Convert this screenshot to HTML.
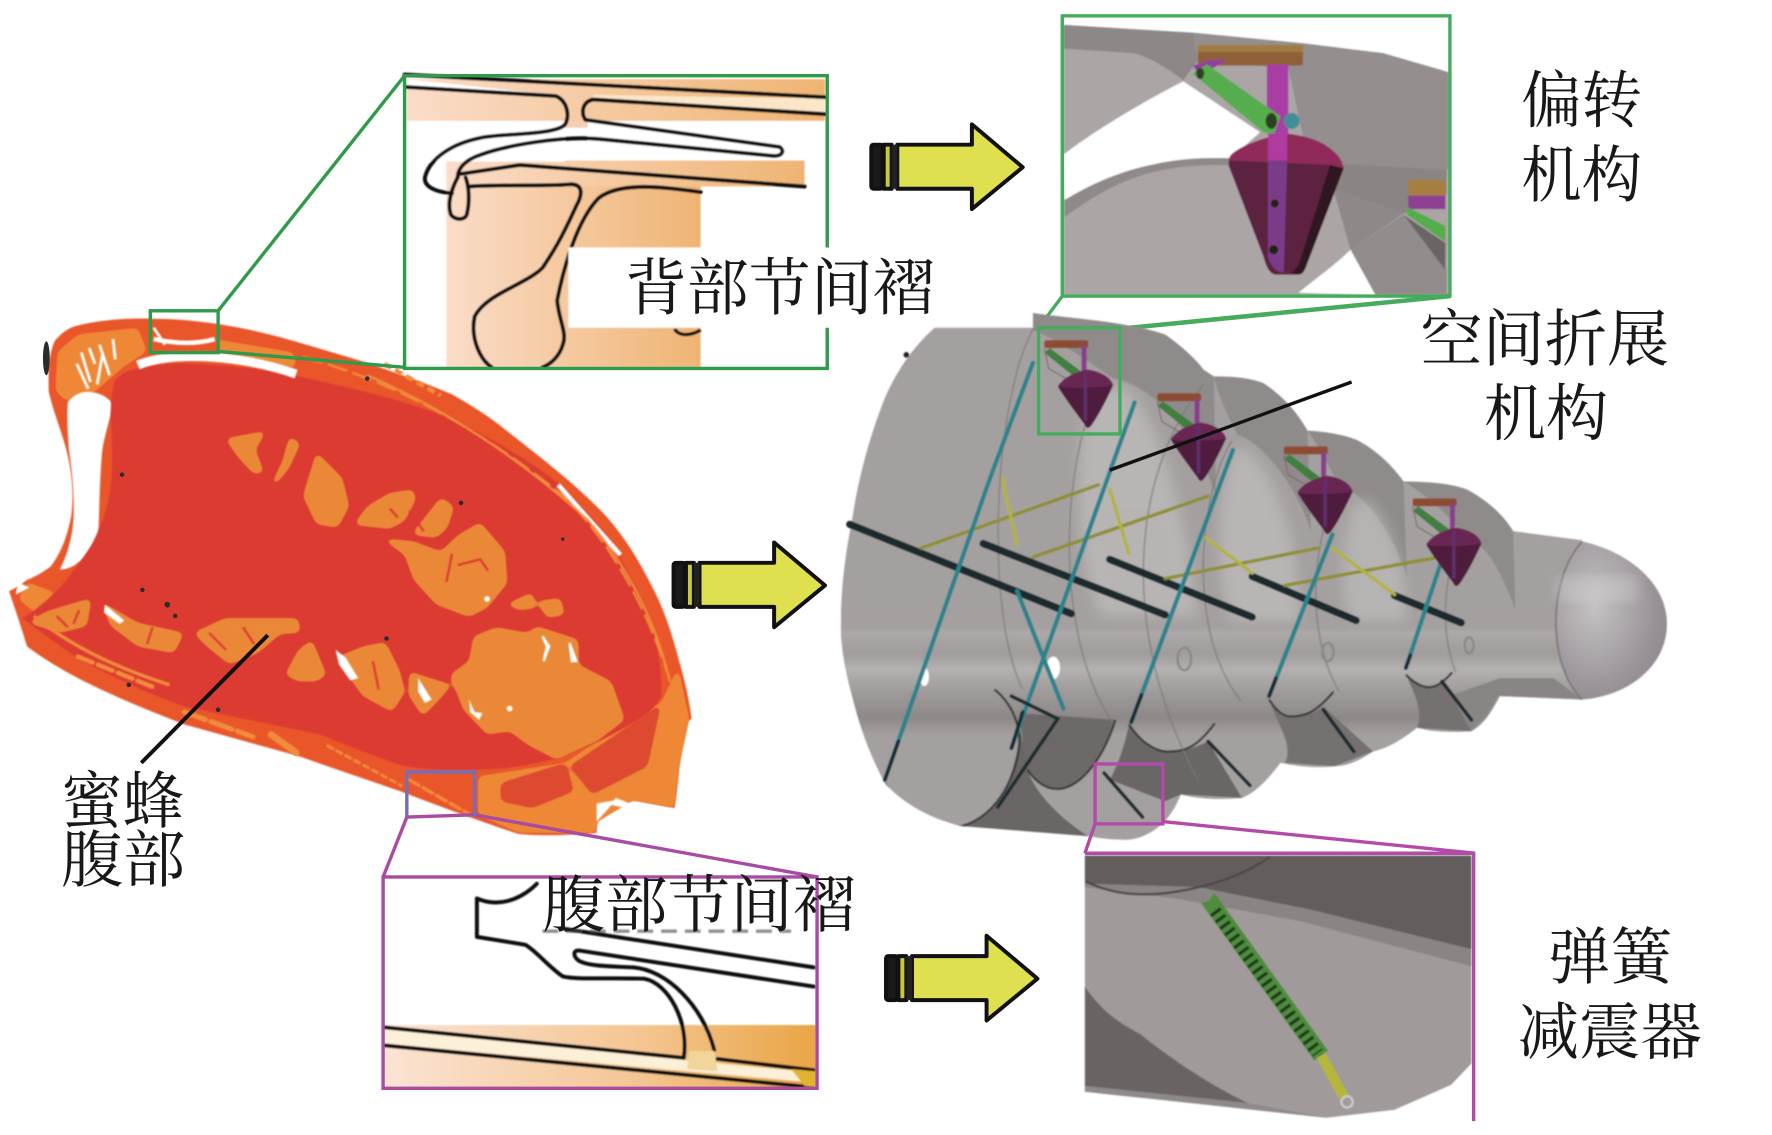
<!DOCTYPE html>
<html lang="zh">
<head>
<meta charset="utf-8">
<title>蜜蜂腹部仿生结构</title>
<style>
html,body{margin:0;padding:0;background:#fff;width:1772px;height:1135px;overflow:hidden}
svg{display:block}
text{font-family:"Liberation Serif","Noto Serif CJK SC",serif;font-size:55px;fill:#181818}
</style>
</head>
<body>
<svg width="1772" height="1135" viewBox="0 0 1568 1004.3" xmlns="http://www.w3.org/2000/svg">
<defs>
<filter id="goo" x="-5%" y="-5%" width="110%" height="110%" color-interpolation-filters="sRGB">
  <feGaussianBlur stdDeviation="3"/>
  <feColorMatrix values="1 0 0 0 0 0 1 0 0 0 0 0 1 0 0 0 0 0 7 -2.9"/>
  <feGaussianBlur stdDeviation=".5"/>
</filter>
<filter id="soft" x="-3%" y="-3%" width="106%" height="106%"><feGaussianBlur stdDeviation=".6"/></filter>
<filter id="soft2" x="-10%" y="-10%" width="120%" height="120%"><feGaussianBlur stdDeviation="6"/></filter>
<linearGradient id="peach" x1="0" y1="0" x2="1" y2="0"><stop offset="0" stop-color="#fadcc8"/><stop offset="1" stop-color="#efb473"/></linearGradient>
<linearGradient id="peach2" x1="0" y1="0" x2="1" y2="0"><stop offset="0" stop-color="#fbe3d4"/><stop offset=".6" stop-color="#f4c591"/><stop offset="1" stop-color="#e9a445"/></linearGradient>
<linearGradient id="shaft" gradientUnits="userSpaceOnUse" x1="0" y1="550" x2="0" y2="650">
<stop offset="0" stop-color="#9a9696" stop-opacity="0"/><stop offset=".1" stop-color="#b3b0b0" stop-opacity=".55"/><stop offset=".28" stop-color="#9c9898" stop-opacity=".45"/><stop offset=".42" stop-color="#bcbaba" stop-opacity=".65"/><stop offset=".65" stop-color="#979393" stop-opacity=".6"/><stop offset=".85" stop-color="#837e7e" stop-opacity=".7"/><stop offset="1" stop-color="#807b7b" stop-opacity="0"/>
</linearGradient>
<radialGradient id="sph" cx=".35" cy=".4" r=".75"><stop offset="0" stop-color="#c6c3c4"/><stop offset=".7" stop-color="#9a9498"/><stop offset="1" stop-color="#8b8490"/></radialGradient>
<clipPath id="sil"><path d="M827,290 L914,290 L914,277 C950,282 1000,285 1031,296 C1048,308 1058,318 1065,327 L1074,333 C1095,333 1108,335 1118,339 C1135,350 1148,365 1157,381 C1175,382 1190,385 1200,389 C1218,398 1232,412 1242,426 C1265,426 1285,428 1298,433 C1315,442 1330,455 1339,470 L1400,478 L1400,619 L1327,616 C1320,630 1312,642 1302,647 C1285,648 1268,648 1254,644 C1240,655 1228,662 1215,665 C1200,675 1190,678 1181,678 C1165,680 1148,678 1133,675 C1122,690 1110,702 1099,706 C1080,708 1060,707 1045,703 C1040,715 1033,726 1026,731 C1015,740 1003,744 992,743 C980,743 970,741 963,740 L851,731 C825,725 800,712 783,693 C768,665 760,640 754,616 C747,590 744,570 744,554 C744,520 748,490 754,460 C760,420 770,385 783,352 C795,325 810,305 827,290 Z"/></clipPath>
<g id="mech">
  <rect x="924" y="301" width="39" height="7" rx="2" fill="#8d4b32"/>
  <polygon points="924,312 929,308 960,331 955,337" fill="#3f7f3f"/>
  <path d="M924,308 L928,326 L945,336" fill="none" stroke="#7a6a6a" stroke-width="1"/>
  <rect x="957" y="306" width="4.5" height="24" fill="#8b3d8d"/>
  <path d="M963,327 C975,329 983,334 985,341 C980,352 972,368 966,376 C963,380 961,379 960,376 C951,364 942,352 936,342 C940,335 950,329 963,327 Z" fill="#4f1f3c"/>
  <path d="M963,327 C975,329 983,334 985,341 C970,343 950,344 936,342 C940,335 950,329 963,327 Z" fill="#6a2552"/>
  <rect x="959" y="330" width="3" height="42" fill="#5e2f6e"/>
</g>
<g id="arrow" stroke="#111" stroke-width="3.5" stroke-linejoin="round">
  <polygon points="794,128 860,128 860,110 905,148 860,185 860,167 794,167" fill="#dfe050"/>
  <rect x="771" y="128" width="10" height="39" fill="#1a1a1a" rx="2"/>
  <rect x="782" y="128" width="7" height="39" fill="#c9c93e"/>
  <rect x="789" y="128" width="5" height="39" fill="#222" stroke="none"/>
</g>
</defs>
<rect width="1568" height="1004.3" fill="#fff"/>

<!-- Bee abdomen -->
<path fill="#e9572a" filter="url(#soft)" d="M43,327 C44,312 48,300 51,299 C57,292 64,289 69,288 C85,284 110,281 134,282 C155,282 175,284 195,287 C220,291 245,297 268,304 L325,321 C350,330 375,338 400,349 C416,358 432,368 447,380 C475,402 505,425 530,450 C550,470 565,495 577,519 C588,540 595,562 601,585 C606,602 610,620 612,636 L601,644 C603,660 602,670 601,678 C600,692 598,705 597,715 L560,708 L528,727 L528,737 C505,739 480,740 459,738 C420,725 385,712 354,700 C325,690 295,680 264,669 L163,641 C135,630 105,618 81,606 C60,596 40,584 24,572 L16,547 L8,523 C15,520 20,516 24,513 C32,510 40,505 45,501 C55,488 60,472 63,457 C66,435 63,412 57,392 C52,375 46,360 43,346 Z"/>
<g filter="url(#goo)">
  <polygon fill="#ee8736" points="51,311 69,296 122,290 130,311 110,324 81,349 59,355 49,346"/>
  <polygon fill="#ee8736" points="500,675 561,634 585,622 600,590 610,636 601,678 597,715 560,708 528,727 528,737 459,737 423,721 423,687"/>
  <polygon fill="#ee8736" points="190,300 260,312 262,326 195,316"/>
  <polygon fill="#ee8736" points="24,515 50,525 35,545 16,530"/>
</g>
<g filter="url(#goo)">
  <polygon fill="#dd4a2f" points="443,693 500,675 508,700 471,715 443,709"/>
  <polygon fill="#dd4a2f" points="504,678 569,634 585,622 573,678 524,703"/>
</g>
<path fill="#fff" filter="url(#soft)" d="M60,356 C66,348 74,346 81,347 C90,348 96,352 100,358 C95,380 91,390 90,404 C88,430 88,450 87,473 C82,485 76,493 69,498 C64,502 58,504 53,504 C60,490 64,475 65,460 C66,440 64,418 61,398 C60,384 59,370 60,356 Z"/>
<path fill="#dc3a31" filter="url(#soft)" d="M102,336 C108,330 115,327 122,326 C140,322 155,321 171,322 C205,323 235,327 264,333 C305,342 350,352 390,367 C425,382 460,402 488,423 C506,438 522,455 536,473 C552,498 567,525 577,554 C583,575 586,596 585,616 C580,626 573,632 565,637 C540,652 515,664 488,672 C465,678 442,681 419,681 C398,682 378,681 358,678 C333,670 308,660 284,650 L163,625 C133,615 103,600 73,585 C55,573 37,560 20,547 C32,540 43,530 53,520 C63,508 73,495 81,482 C90,465 96,448 98,430 C100,410 99,388 98,367 C98,355 99,345 102,336 Z"/>
<g filter="url(#soft)">
  <path d="M122,323 C150,311 210,313 262,331" fill="none" stroke="#fff" stroke-width="8"/>
  <path d="M494,429 L549,491" stroke="#fff" stroke-width="4"/>
  <path d="M16,515 L26,520 L14,526 Z" fill="#fff"/>
  <g stroke="#fff" stroke-width="2.5" fill="none">
    <path d="M72,312 L80,338 M79,308 L84,322 M88,305 L97,332 M100,300 L102,318 M68,322 L78,344 M91,312 L86,340 M136,290 L146,305"/>
    <path d="M136,300 C150,303 170,306 190,300" stroke-width="4"/>
  </g>
  <g stroke="#f08c3a" stroke-width="2" fill="none">
    <path d="M268,316 C340,335 420,375 500,440 C540,480 575,540 595,610" stroke-dasharray="18 5"/>
    <path d="M325,332 C400,365 465,410 520,460 C555,500 580,550 592,600"/>
    <path d="M340,322 L390,350" stroke-width="4" stroke-dasharray="7 4"/>
    <path d="M30,545 C60,570 100,590 150,606" stroke-width="3"/>
  </g>
  <g stroke="#f08c3a" fill="none" stroke-linecap="round">
    <path d="M69,581 L138,609" stroke-width="4" stroke-dasharray="14 5"/>
    <path d="M163,630 L224,652" stroke-width="4.5" stroke-dasharray="20 5"/>
    <path d="M240,650 L262,666" stroke-width="6"/>
    <path d="M290,660 L355,695" stroke-width="2.5" stroke-dasharray="5 4"/>
    <path d="M362,690 L418,722" stroke-width="3" stroke-dasharray="10 4"/>
  </g>
</g>
<g filter="url(#goo)" fill="#ea8838">
  <polygon points="199,388 236,381 226,398 234,419 224,419 211,405"/>
  <polygon points="256,386 266,392 256,414 244,429 240,428 250,408"/>
  <polygon points="280,400 303,423 309,448 299,467 280,464 268,439"/>
  <polygon points="313,464 325,448 345,436 366,433 368,442 358,461 345,468 317,465"/>
  <polygon points="364,473 390,440 402,448 396,467 386,476"/>
  <polygon points="337,476 366,479 390,488 406,473 425,462 447,488 449,516 431,538 415,546 386,535 366,513 358,491"/>
  <polygon points="419,563 439,555 467,560 475,554 512,566 512,588 541,603 553,637 528,656 492,672 467,659 451,647 431,650 410,628 398,597 415,585"/>
  <polygon points="447,535 471,524 475,538 460,540"/>
  <polygon points="475,532 496,529 500,544 484,547"/>
  <polygon points="297,582 321,572 341,568 354,594 358,613 347,630 321,616"/>
  <polygon points="362,594 390,603 400,606 386,622 374,634 362,616"/>
  <polygon points="252,597 264,575 276,566 289,597 280,603 264,603"/>
  <polygon points="89,532 122,551 163,560 154,578 122,572 98,554"/>
  <polygon points="171,560 199,547 244,547 264,547 266,560 248,561 228,578 203,588 183,572"/>
  <polygon points="41,541 81,529 77,554 53,560 24,551"/>
</g>
<g fill="none" stroke="#dc3a31" stroke-width="2" filter="url(#soft)">
  <path d="M400,490 L395,515 M405,500 L425,495 L432,505"/>
  <path d="M345,450 L352,458 M375,470 L362,452"/>
  <path d="M135,555 L130,570 M185,560 L200,575 M215,555 L225,570 M330,585 L335,610"/>
  <path d="M50,545 L60,555 M70,540 L65,552"/>
</g>
<g fill="#fff" filter="url(#soft)">
  <path d="M297,575 L306,582 L317,600 L310,602 L300,588 Z"/>
  <path d="M480,563 L486,572 L481,585 L484,572 Z" stroke="#fff" stroke-width="2"/>
  <path d="M504,569 L510,585 L506,585 Z" stroke="#fff" stroke-width="2"/>
  <path d="M415,619 L420,630 L427,631 L424,637 L416,630 Z"/>
  <circle cx="451" cy="627" r="2.5"/><circle cx="431" cy="530" r="2.5"/>
  <path d="M370,600 L382,619 L376,622 L370,612 Z"/>
  <path d="M93,535 L110,549 L106,552 L92,542 Z"/>
  <path d="M545,706 L570,716 L565,718 L540,712 Z"/>
  <path d="M528,711 L545,708 L528,727 Z"/>
</g>
<g fill="#2b2b2b">
  <circle cx="126" cy="522" r="2"/><circle cx="148" cy="535" r="2.5"/><circle cx="155" cy="545" r="2"/><circle cx="114" cy="606" r="2"/><circle cx="193" cy="628" r="2"/><circle cx="342" cy="565" r="2"/><circle cx="325" cy="335" r="2"/><circle cx="108" cy="420" r="2"/><circle cx="408" cy="445" r="2"/><circle cx="498" cy="477" r="1.5"/>
  <ellipse cx="41" cy="317" rx="3" ry="15"/>
</g>
<line x1="237" y1="562" x2="125" y2="675" stroke="#111" stroke-width="3.5"/>

<!-- Upper-left inset -->
<g filter="url(#soft)">
<rect x="360" y="70" width="370" height="37" fill="url(#peach)"/>
<rect x="395" y="144" width="225" height="181" fill="url(#peach)"/>
<rect x="395" y="142" width="317" height="23" fill="url(#peach)"/>
<rect x="360" y="107" width="140" height="36" fill="#fff"/>
<rect x="520" y="107" width="212" height="35" fill="#fff"/>
<polygon points="360,70 490,84 360,77" fill="#fff"/>
<polygon points="525,88 730,101 730,87 525,84" fill="#fbe6c8"/>
<rect x="500" y="107" width="20" height="6" fill="#f6cfb2"/>
<g fill="none" stroke="#111" stroke-width="3.5" stroke-linejoin="round" stroke-linecap="round">
  <path d="M358,66 L730,86"/>
  <path d="M360,77 L492,85 C503,90 504,104 500,110 C492,120 440,118 425,122 C400,127 380,140 376,157 C375,165 385,170 400,171"/>
  <path d="M730,101 L525,88 C515,90 514,100 518,106 L690,130 C694,133 693,138 685,138 L530,123 C500,120 450,128 425,137 C410,142 405,150 405,157"/>
  <path d="M407,154 L460,146 L712,165"/>
  <path d="M415,165 C445,163 490,165 505,163 C518,163 514,175 510,182 C495,215 488,225 480,237 C465,252 430,260 420,280 C416,300 425,318 435,325"/>
  <path d="M620,170 C590,166 550,160 530,175 C510,195 498,240 493,266 C495,285 502,295 498,305 C495,315 488,322 480,325"/>
  <path d="M405,157 C398,170 396,182 399,190 C403,195 411,195 413,190 C416,178 415,165 412,157"/>
</g>
<rect x="503" y="219" width="232" height="71" fill="#fff"/>
<path d="M597,291 C600,297 610,298 620,292" fill="none" stroke="#111" stroke-width="3"/>
</g>
<g fill="none" stroke="#2f9a4a" stroke-width="3">
  <path d="M732,219 V67 H358 V326 H732 V290"/>
  <rect x="133" y="275" width="60" height="37"/>
  <path d="M358,67 L193,275"/>
  <path d="M358,325 L193,311"/>
</g>

<!-- Lower-left inset -->
<g filter="url(#soft)">
<rect x="340" y="907" width="382" height="56" fill="url(#peach2)"/>
<polygon points="340,911 605,938 720,949 720,958 340,923" fill="#fdf0d8"/>
<g fill="none" stroke="#111" stroke-width="3.5" stroke-linejoin="round" stroke-linecap="round">
  <path d="M340,909 L605,936"/>
  <path d="M340,925 L718,962"/>
  <path d="M635,937 L720,947"/>
  <path d="M605,936 C610,905 592,870 570,866 C540,865 510,867 498,864 C485,855 475,842 465,836 L422,829 L422,795 C440,803 460,797 475,782"/>
  <path d="M632,929 C622,890 590,858 560,856 C540,855 520,855 512,850 C507,846 507,841 512,841 L720,873"/>
  <path d="M500,822 L720,856"/>
</g>
<path d="M480,824 H700" stroke="#444" stroke-width="3" stroke-dasharray="14 7" fill="none" opacity=".6"/>
<polygon points="610,930 632,930 635,948 608,946" fill="#f1d59a"/>
<polygon points="700,946 722,948 722,962 712,961" fill="#e2b32e"/>
</g>
<g fill="none" stroke="#a84ba2" stroke-width="3">
  <rect x="339" y="776" width="384" height="187"/>
  <path d="M360,723 L339,776"/>
  <path d="M360,723 L420,721 L723,776"/>
  <path d="M360,723 V683 H420 V723" stroke="#7a6cb2"/>
</g>

<!-- Arrows -->
<use href="#arrow"/>
<use href="#arrow" x="-175" y="370"/>
<use href="#arrow" x="13" y="718"/>

<!-- Top-right inset -->
<g filter="url(#soft)">
<path d="M941,22 L1056,29 L1150,38 C1190,42 1240,50 1282,64 V261 H941 Z" fill="#aba5a5"/>
<polygon points="1056,29 1150,38 1224,47 1282,64 1282,150 1189,145 1153,121 1140,60 1058,55" fill="#948e8e"/>
<path d="M941,22 L1056,29 L1059,55 L1047,71 C1030,58 1015,50 1003,47 L941,43 Z" fill="#8d8787"/>
<path d="M1047,72 L1115,117 L1089,140 C1060,139 1040,141 1018,146 C990,152 965,163 942,177 L941,137 C960,122 1000,96 1047,72 Z" fill="#fff"/>
<path d="M942,177 C965,163 990,152 1018,146 C1040,141 1060,139 1089,140 L1089,146 C1060,146 1040,147 1018,153 C990,160 965,175 942,192 Z" fill="#8f8989"/>
<polygon points="1189,145 1280,150 1280,172 1242,189 1180,168" fill="#8a8484"/>
<polygon points="1180,168 1242,189 1195,221" fill="#8e8888"/>
<polygon points="1195,221 1242,190 1280,239 1280,261 1217,261" fill="#928c8c"/>
<polygon points="1242,190 1279,215 1279,239" fill="#6b6565"/>
<path d="M1149,259 C1165,246 1182,234 1195,221 L1217,261 Z" fill="#fff"/>
<rect x="1060" y="40" width="93" height="18" rx="2" fill="#8f6038"/>
<rect x="1060" y="40" width="93" height="6" fill="#a07c40"/>
<polygon points="1056,58 1070,53 1086,53 1070,62 1060,66" fill="#93409a"/>
<rect x="1121" y="57" width="19" height="61" fill="#a83ea4"/>
<circle cx="1143" cy="107" r="7" fill="#3f8f96"/>
<polygon points="1055,65 1068,57 1133,103 1127,119 1118,117" fill="#55ad4e"/>
<ellipse cx="1125" cy="107" rx="5" ry="7" fill="#2f3f23"/>
<ellipse cx="1062" cy="65" rx="3.5" ry="5" fill="#2f3f23"/>
<path d="M1136,118 C1110,124 1092,132 1088,139 L1087,146 L1118,227 C1121,238 1124,243 1130,243 L1149,243 C1153,243 1155,238 1156,235 L1189,149 C1188,140 1180,133 1172,128 C1164,123 1150,119 1136,118 Z" fill="#5c2240"/>
<path d="M1136,118 C1110,124 1092,132 1088,139 L1087,142 L1177,146 L1189,149 C1188,140 1180,133 1172,128 C1164,123 1150,119 1136,118 Z" fill="#8f2b5a"/>
<path d="M1177,146 L1189,149 L1156,235 C1155,238 1153,243 1149,243 L1142,242 C1146,240 1148,236 1150,232 Z" fill="#2e1421"/>
<rect x="1122" y="118" width="17" height="24" fill="#b03aa0"/>
<path d="M1122,142 H1139 L1136,241 C1130,241 1126,238 1122,228 Z" fill="#7c3a88"/>
<circle cx="1128" cy="180" r="3.5" fill="#221"/><circle cx="1127" cy="221" r="4" fill="#221"/>
<rect x="1246" y="159" width="33" height="14" fill="#a67f3f"/>
<rect x="1246" y="173" width="33" height="12" fill="#8d3f92"/>
<polygon points="1245,183 1279,200 1279,214 1245,190" fill="#55ad4e"/>
</g>
<g fill="none" stroke="#45ab5d" stroke-width="3">
  <rect x="940" y="14" width="343" height="248"/>
  <path d="M940,262 L919,290"/>
  <path d="M1283,262 L1000,290" stroke-width="4"/>
</g>

<!-- Main cylinder assembly -->
<g filter="url(#soft)">
<rect x="744" y="270" width="660" height="480" fill="#a5a0a0" clip-path="url(#sil)"/>
<g clip-path="url(#sil)">
  <path d="M914,277 C950,282 1000,285 1031,296 C1048,308 1058,318 1074,333 L1076,440 C1060,385 1020,340 985,335 C960,318 935,300 914,292 Z" fill="#7f7a7a" opacity=".55"/>
  <path d="M1074,333 C1095,333 1108,335 1118,339 C1135,350 1148,365 1157,381 L1160,470 C1145,425 1115,390 1095,385 C1085,365 1078,350 1074,333 Z" fill="#7f7a7a" opacity=".55"/>
  <path d="M1157,381 C1175,382 1190,385 1200,389 C1218,398 1232,412 1242,426 L1245,510 C1230,465 1205,435 1185,430 C1175,410 1165,392 1157,381 Z" fill="#7f7a7a" opacity=".55"/>
  <path d="M1242,426 C1265,426 1285,428 1298,433 C1315,442 1330,455 1339,470 L1341,540 C1325,495 1310,478 1295,475 C1285,458 1265,440 1242,426 Z" fill="#7f7a7a" opacity=".55"/>
  <path d="M965,340 C950,400 950,500 975,545 L1060,545 C1050,480 1040,400 1000,345 Z" fill="#c8c6c6" opacity=".55" filter="url(#soft2)"/>
  <path d="M1090,400 C1075,450 1075,510 1090,550 L1150,550 C1150,480 1130,420 1100,395 Z" fill="#c8c6c6" opacity=".55" filter="url(#soft2)"/>
  <path d="M1200,445 C1185,480 1185,520 1195,550 L1245,550 C1245,500 1230,460 1210,440 Z" fill="#c8c6c6" opacity=".5" filter="url(#soft2)"/>
  <rect x="744" y="550" width="660" height="100" fill="url(#shaft)"/>
  <path d="M902,640 C902,680 885,722 851,731 L963,740 C940,725 918,705 909,681 Z" fill="#6b6666"/>
  <path d="M902,631 C905,650 905,668 909,681 C918,694 928,699 938,698 C955,696 975,675 987,637 Z" fill="#6e6969"/>
  <path d="M999,641 C1008,655 1022,666 1035,665 C1050,665 1060,660 1069,656 L1099,706 L1045,703 L1031,709 L982,690 C990,675 995,660 999,641 Z" fill="#6b6666"/>
  <path d="M1123,619 C1130,630 1136,634 1142,634 C1155,634 1165,630 1171,625 L1215,665 L1181,678 L1137,675 C1145,660 1130,640 1123,619 Z" fill="#767171"/>
  <path d="M1244,597 C1252,605 1258,608 1264,608 C1270,608 1275,606 1278,603 L1302,647 L1254,644 C1260,630 1250,610 1244,597 Z" fill="#767171"/>
  <path d="M1327,600 L1375,600 L1400,619 L1327,616 L1302,647 L1285,615 Z" fill="#8a8585"/>
</g>
<g fill="none" stroke="#3c3a3a" stroke-width="2" clip-path="url(#sil)">
  <path d="M783,693 C800,720 825,733 851,731 C885,722 902,680 902,655 C902,640 895,622 880,610"/>
  <path d="M909,681 C918,694 928,699 938,698 C955,696 975,675 987,637"/>
  <path d="M999,641 C1008,655 1022,666 1035,665 C1050,665 1060,660 1075,640"/>
  <path d="M1123,619 C1130,630 1136,634 1142,634 C1155,634 1165,630 1180,612"/>
  <path d="M1244,597 C1252,605 1258,608 1264,608 C1270,608 1275,606 1285,595"/>
</g>
<g fill="none" stroke="#7d7878" stroke-width="1.3" opacity=".75">
  <path d="M975,340 C940,400 930,560 985,640"/>
  <path d="M1090,390 C1060,440 1050,560 1098,620"/>
  <path d="M1185,430 C1160,480 1155,560 1185,612"/>
  <path d="M1295,475 C1275,510 1275,560 1288,595"/>
  <path d="M915,290 C880,350 870,540 905,610"/>
  <path d="M1065,340 C1000,420 990,560 1060,690"/>
</g>
<ellipse cx="1048" cy="583" rx="6" ry="10" fill="none" stroke="#888" stroke-width="2"/>
<ellipse cx="1175" cy="577" rx="5" ry="8" fill="none" stroke="#888" stroke-width="2"/>
<ellipse cx="1300" cy="571" rx="4" ry="7" fill="none" stroke="#888" stroke-width="2"/>
<ellipse cx="932" cy="591" rx="6" ry="10" fill="#fff"/>
<ellipse cx="818" cy="599" rx="4" ry="8" fill="#fff"/>
<!-- Sphere -->
<path d="M1400,479 C1440,488 1475,515 1475,552 C1475,590 1440,616 1400,619 C1370,590 1368,515 1400,479 Z" fill="url(#sph)"/>
<path d="M1400,479 C1368,515 1370,590 1400,619" fill="none" stroke="#7a7577" stroke-width="1.5"/>
<rect x="1378" y="510" width="70" height="22" fill="#d4d2d2" opacity=".4" filter="url(#soft2)"/>
<circle cx="802" cy="314" r="2.5" fill="#222"/>
<!-- Rods: dark -->
<g stroke="#1f2b2d" stroke-width="6.5" stroke-linecap="round" fill="none">
  <line x1="752" y1="464" x2="948" y2="543"/>
  <line x1="870" y1="481" x2="1031" y2="544"/>
  <line x1="982" y1="495" x2="1108" y2="546"/>
  <line x1="1108" y1="510" x2="1200" y2="549"/>
  <line x1="1234" y1="527" x2="1293" y2="551"/>
</g>
<!-- Rods: yellow -->
<g stroke="#8f8f2e" stroke-width="3" fill="none" stroke-linecap="round">
  <line x1="815" y1="485" x2="972" y2="429"/>
  <line x1="914" y1="493" x2="1069" y2="439"/>
  <line x1="1031" y1="512" x2="1166" y2="485"/>
  <line x1="1137" y1="518" x2="1273" y2="493"/>
  <line x1="887" y1="423" x2="900" y2="482" stroke="#b3b33c"/>
  <line x1="982" y1="433" x2="999" y2="490" stroke="#b3b33c"/>
  <line x1="1067" y1="476" x2="1108" y2="507" stroke="#b3b33c"/>
  <line x1="1179" y1="485" x2="1234" y2="526" stroke="#b3b33c"/>
</g>
<!-- Rods: teal -->
<g stroke="#2a838c" stroke-width="3.8" fill="none" stroke-linecap="round">
  <polyline points="914,321 875,426 783,690"/>
  <line x1="1004" y1="356" x2="895" y2="662"/>
  <line x1="1091" y1="398" x2="1001" y2="639"/>
  <line x1="1179" y1="473" x2="1123" y2="616"/>
  <line x1="1276" y1="495" x2="1244" y2="591"/>
  <line x1="900" y1="523" x2="941" y2="627"/>
</g>
<g stroke="#1f2b2d" stroke-width="3.2" fill="none" stroke-linecap="round">
  <polyline points="895,616 936,636 883,714"/>
  <line x1="977" y1="684" x2="1011" y2="723"/>
  <line x1="1069" y1="656" x2="1106" y2="695"/>
  <line x1="1171" y1="628" x2="1198" y2="665"/>
  <line x1="1276" y1="603" x2="1302" y2="637"/>
  <line x1="795" y1="656" x2="783" y2="690"/>
  <line x1="905" y1="630" x2="895" y2="662"/>
  <line x1="1010" y1="615" x2="1001" y2="639"/>
  <line x1="1129" y1="600" x2="1123" y2="616"/>
  <line x1="1248" y1="580" x2="1244" y2="591"/>
</g>
<!-- Mechanisms -->
<use href="#mech"/>
<use href="#mech" x="100" y="47"/>
<use href="#mech" x="212" y="94"/>
<use href="#mech" x="326" y="140"/>
</g>
<line x1="1196" y1="338" x2="982" y2="416" stroke="#111" stroke-width="3"/>
<rect x="919" y="290" width="72" height="94" fill="none" stroke="#45ab5d" stroke-width="3"/>
<g fill="none" stroke="#b24aa8" stroke-width="3">
  <rect x="969" y="676" width="60" height="53"/>
  <path d="M969,729 L960,755"/>
  <path d="M1029,727 L1305,755"/>
</g>

<!-- Bottom-right inset -->
<g filter="url(#soft)">
<path d="M960,757 H1302 V941 L1284,960 L1234,982 L1174,989 L960,966 Z" fill="#a09a9a"/>
<polygon points="960,757 1302,757 1302,840 1160,805 1060,785 960,782" fill="#635d5d"/>
<polygon points="960,782 1060,785 1160,805 1302,840 1302,855 1150,815 1040,795 960,785" fill="#8a8484"/>
<path d="M961,780 C985,792 1010,793 1034,790 C1070,785 1100,775 1124,758" fill="none" stroke="#4b4646" stroke-width="2"/>
<path d="M960,873 C975,895 990,905 1009,915 C1040,940 1075,962 1104,976 L960,961 Z" fill="#6a6464"/>
<polygon points="960,961 1104,976 1174,989 960,966" fill="#8f8a8a"/>
<line x1="1069" y1="795" x2="1169" y2="934" stroke="#4d8d3c" stroke-width="15"/>
<line x1="1075" y1="806" x2="1166" y2="932" stroke="#20381a" stroke-width="11" stroke-dasharray="3 4"/>
<line x1="1169" y1="934" x2="1190" y2="972" stroke="#b6b638" stroke-width="9"/>
<circle cx="1192" cy="975" r="5" fill="none" stroke="#ccc" stroke-width="2"/>
<circle cx="1066" cy="792" r="5" fill="none" stroke="#888" stroke-width="2"/>
</g>
<path d="M960,755 H1304 V992" fill="none" stroke="#b24aa8" stroke-width="3"/>

<!-- Labels -->
<text x="553" y="274" textLength="274" lengthAdjust="spacingAndGlyphs">背部节间褶</text>
<text x="480" y="820" textLength="277" lengthAdjust="spacingAndGlyphs">腹部节间褶</text>
<text x="1346" y="108" textLength="107" lengthAdjust="spacingAndGlyphs">偏转</text>
<text x="1346" y="174" textLength="107" lengthAdjust="spacingAndGlyphs">机构</text>
<text x="1257" y="319" textLength="220" lengthAdjust="spacingAndGlyphs">空间折展</text>
<text x="1313" y="385" textLength="110" lengthAdjust="spacingAndGlyphs">机构</text>
<text x="54" y="728" textLength="109" lengthAdjust="spacingAndGlyphs">蜜蜂</text>
<text x="54" y="780" textLength="110" lengthAdjust="spacingAndGlyphs">腹部</text>
<text x="1370" y="866" textLength="110" lengthAdjust="spacingAndGlyphs">弹簧</text>
<text x="1343" y="932" textLength="163" lengthAdjust="spacingAndGlyphs">减震器</text>
</svg>
</body>
</html>
